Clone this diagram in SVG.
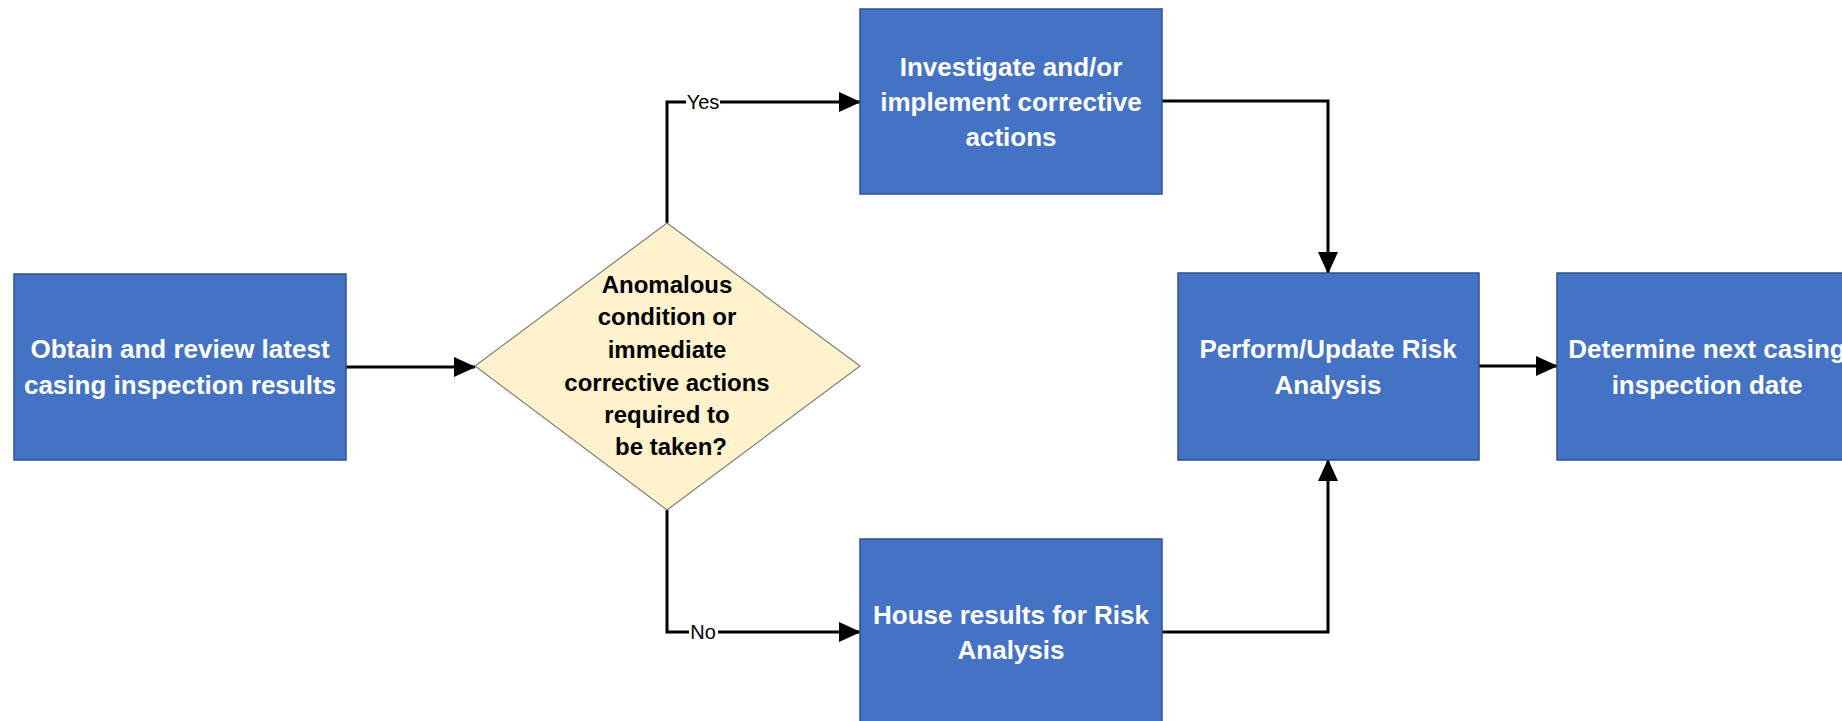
<svg xmlns="http://www.w3.org/2000/svg" width="1842" height="721" viewBox="0 0 1842 721">
<style>
.box{fill:#4472C4;stroke:#2F528F;stroke-width:1.5}
.dia{fill:#FFF2CC;stroke:#7F7F7F;stroke-width:1.2}
.bt{font-family:"Liberation Sans",Arial,sans-serif;font-weight:bold;font-size:26px;fill:#FFFFFF;text-anchor:middle}
.dt{font-family:"Liberation Sans",Arial,sans-serif;font-weight:bold;font-size:24px;fill:#000000;text-anchor:middle}
.lbl{font-family:"Liberation Sans",Arial,sans-serif;font-size:20px;fill:#000000;text-anchor:middle}
.conn{fill:none;stroke:#000000;stroke-width:3}
</style>
<defs>
<marker id="arr" viewBox="0 0 22 20" refX="21" refY="10" markerWidth="22" markerHeight="20" markerUnits="userSpaceOnUse" orient="auto">
<path d="M0,0 L22,10 L0,20 Z" fill="#000000"/>
</marker>
</defs>
<rect width="1842" height="721" fill="#FFFFFF"/>
<g id="connectors">
<path class="conn" d="M346,367 H475" marker-end="url(#arr)"/>
<path class="conn" d="M667,223 V102 H860" marker-end="url(#arr)"/>
<path class="conn" d="M667,510 V632 H860" marker-end="url(#arr)"/>
<path class="conn" d="M1162,101 H1328 V273" marker-end="url(#arr)"/>
<path class="conn" d="M1162,632 H1328 V460" marker-end="url(#arr)"/>
<path class="conn" d="M1479,366 H1557" marker-end="url(#arr)"/>
<rect x="686" y="90" width="34" height="24" fill="#FFFFFF"/>
<text class="lbl" x="703" y="109">Yes</text>
<rect x="689" y="620" width="29" height="24" fill="#FFFFFF"/>
<text class="lbl" x="703" y="639">No</text>
</g>
<g id="obtain">
<rect class="box" x="14" y="274" width="332" height="186"/>
<text class="bt" x="180" y="358">Obtain and review latest</text>
<text class="bt" x="180" y="394">casing inspection results</text>
</g>
<g id="decision">
<polygon class="dia" points="667,223 860,366 667,510 475,366"/>
<text class="dt" x="667" y="293">Anomalous</text>
<text class="dt" x="667" y="325">condition or</text>
<text class="dt" x="667" y="358">immediate</text>
<text class="dt" x="667" y="391">corrective actions</text>
<text class="dt" x="667" y="423">required to</text>
<text class="dt" x="671" y="455">be taken?</text>
</g>
<g id="investigate">
<rect class="box" x="860" y="9" width="302" height="185"/>
<text class="bt" x="1011" y="76">Investigate and/or</text>
<text class="bt" x="1011" y="111">implement corrective</text>
<text class="bt" x="1011" y="146">actions</text>
</g>
<g id="house">
<rect class="box" x="860" y="539" width="302" height="186"/>
<text class="bt" x="1011" y="624">House results for Risk</text>
<text class="bt" x="1011" y="659">Analysis</text>
</g>
<g id="perform">
<rect class="box" x="1178" y="273" width="301" height="187"/>
<text class="bt" x="1328" y="358">Perform/Update Risk</text>
<text class="bt" x="1328" y="394">Analysis</text>
</g>
<g id="determine">
<rect class="box" x="1557" y="273" width="301" height="187"/>
<text class="bt" x="1707" y="358">Determine next casing</text>
<text class="bt" x="1707" y="394">inspection date</text>
</g>
</svg>
